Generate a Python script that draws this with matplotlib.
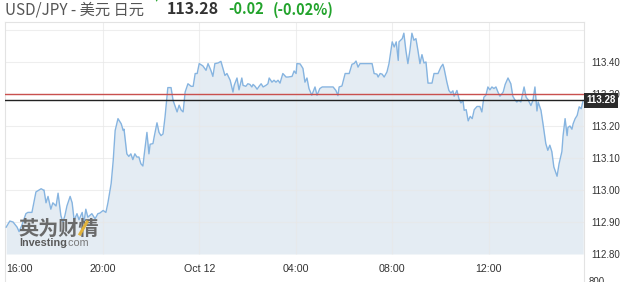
import matplotlib.pyplot as plt
from matplotlib.lines import Line2D
from matplotlib.transforms import blended_transform_factory

# minutes after 16:00 (Oct 11) and USD/JPY price
minutes = [0, 9, 17, 27, 32, 39, 49, 54, 64, 74, 82, 87, 92, 94, 99, 104, 111, 116, 124, 129,
           136, 141, 146, 151, 159, 164, 169, 176, 181, 189, 193, 198, 203, 213, 221, 228,
           233, 241, 248, 253, 261, 266, 271, 278, 286, 291, 293, 300, 305, 310, 315, 320, 325,
           330, 335, 340, 343, 350, 355, 358, 365, 368, 375, 380, 385, 390, 395, 402, 410, 415,
           425, 430, 435, 440, 445, 452, 460, 465, 470, 475, 480,
           489, 497, 502, 509, 514, 519, 527, 534, 539, 544, 549, 557, 564, 567, 574, 579, 586,
           589, 596, 601, 606, 611, 614, 619, 624, 629, 634, 639, 646, 651, 654, 661, 666, 671,
           676, 681, 688, 696, 701, 711, 716, 721, 723, 731,
           738, 743, 748, 753, 760, 768, 773, 780, 786, 813, 820, 825, 828, 835, 843, 853, 860,
           865, 870, 875, 880, 910, 915, 922, 925, 930, 935, 940, 947, 952, 960, 965, 970, 975, 977,
           985, 989, 994, 999, 1004, 1009, 1014, 1019, 1024, 1029, 1034, 1039, 1044, 1049, 1059,
           1064, 1074, 1081, 1086, 1089, 1096, 1101, 1106, 1111, 1114, 1121, 1126, 1131, 1136,
           1139, 1144, 1149, 1154, 1159, 1164, 1171, 1178, 1183, 1188, 1193, 1198, 1203, 1208,
           1213, 1218, 1223,
           1228, 1236, 1241, 1248, 1255, 1260, 1265, 1270, 1275, 1280, 1288, 1293, 1298, 1305,
           1310, 1315, 1320, 1323, 1330, 1335, 1342, 1347, 1352, 1357, 1362, 1370, 1375, 1382,
           1385, 1390, 1395, 1397, 1402, 1407, 1410, 1415, 1420, 1425, 1430, 1435]
prices = [112.884, 112.903, 112.900, 112.884, 112.870, 112.890, 112.926, 112.930, 112.930, 112.994,
          113.000, 113.004, 113.000, 113.000, 112.960, 112.980, 112.940, 112.960, 112.950, 112.990,
          112.920, 112.900, 112.920, 112.950, 112.980, 112.960, 112.905, 112.926, 112.907, 112.930,
          112.895, 112.940, 112.915, 112.926, 112.910, 112.926,
          112.928, 112.936, 112.930, 112.960, 113.020, 113.090, 113.186, 113.223, 113.207, 113.186,
          113.190, 113.113, 113.105, 113.113, 113.095, 113.113, 113.103, 113.103, 113.082, 113.075,
          113.108, 113.180, 113.113, 113.143, 113.145, 113.166, 113.210, 113.180, 113.170, 113.175,
          113.228, 113.320, 113.320, 113.280, 113.244, 113.265, 113.250, 113.244, 113.306, 113.332,
          113.324, 113.324, 113.364, 113.364, 113.395,
          113.388, 113.374, 113.395, 113.374, 113.355, 113.395, 113.397, 113.402, 113.380, 113.358,
          113.364, 113.343, 113.306, 113.327, 113.350, 113.313, 113.350, 113.327, 113.324, 113.332,
          113.330, 113.322, 113.330, 113.324, 113.315, 113.324, 113.332, 113.322, 113.327, 113.332,
          113.350, 113.337, 113.343, 113.337, 113.343, 113.334, 113.364, 113.353, 113.353, 113.355,
          113.372, 113.364, 113.395, 113.394,
          113.380, 113.337, 113.350, 113.317, 113.296, 113.322, 113.296, 113.317, 113.322, 113.322,
          113.311, 113.295, 113.322, 113.325, 113.364, 113.364, 113.393, 113.395, 113.403, 113.384,
          113.395, 113.395, 113.364, 113.362, 113.353, 113.364, 113.362, 113.353, 113.369, 113.395,
          113.463, 113.447, 113.463, 113.405, 113.463,
          113.473, 113.490, 113.436, 113.395, 113.436, 113.490, 113.468, 113.473, 113.436, 113.395,
          113.423, 113.397, 113.400, 113.334, 113.334, 113.364, 113.364, 113.384, 113.393, 113.380,
          113.337, 113.311, 113.303, 113.310, 113.293, 113.311, 113.285, 113.272, 113.280, 113.249,
          113.251, 113.216, 113.230, 113.223, 113.251, 113.261, 113.261, 113.244, 113.290, 113.296,
          113.322, 113.313, 113.322, 113.317, 113.322, 113.306,
          113.293, 113.306, 113.330, 113.350, 113.332, 113.293, 113.282, 113.275, 113.280, 113.275,
          113.322, 113.290, 113.282, 113.264, 113.280, 113.322, 113.247, 113.275, 113.249, 113.207,
          113.145, 113.124, 113.140, 113.120, 113.072, 113.043, 113.082, 113.120, 113.170, 113.223,
          113.170, 113.195, 113.200, 113.190, 113.207, 113.223, 113.233, 113.260, 113.254, 113.280]

tick_minutes = [0, 240, 480, 720, 960, 1200]
tick_labels = ['16:00', '20:00', 'Oct 12', '04:00', '08:00', '12:00']
price_ticks = [112.80, 112.90, 113.00, 113.10, 113.20, 113.30, 113.40]
grid_prices = [112.90, 113.00, 113.10, 113.20, 113.30, 113.40, 113.50]
last_price = 113.28
prev_close = 113.30
change = '-0.02'
change_pct = '(-0.02%)'

W, H = 638, 282
fig = plt.figure(figsize=(W / 100, H / 100), dpi=100)
ax = fig.add_axes([5 / W, 0, 579 / W, 1 - 22 / H])
ax.set_xlim(-3, 1437)
ax.set_ylim(112.7125, 113.525)
base = 112.80

ax.fill_between(minutes, prices, base, color='#e4ecf3', lw=0, zorder=1)
for p in grid_prices:
    ax.axhline(p, color='#e8e8e8', lw=0.8, alpha=0.7, zorder=2)
ax.vlines(tick_minutes[1:], base, 113.525, color='#e8e8e8', lw=0.8, alpha=0.7, zorder=2)
ax.plot(minutes, prices, color='#86b4e0', lw=1, zorder=3)
ax.axhline(prev_close, color='#c9504e', lw=1, zorder=4)
ax.axhline(last_price, color='#222222', lw=1, zorder=4)

for s in ['left', 'right', 'top']:
    ax.spines[s].set_color('#e3e3e3')
ax.spines['bottom'].set_visible(False)
ax.set_xticks([])
ax.yaxis.tick_right()
ax.set_yticks(price_ticks)
ax.set_yticklabels(['%.2f' % p for p in price_ticks], fontsize=7, color='#333333',
                   family='Liberation Sans')
ax.tick_params(axis='y', length=0, pad=5)

for m, lab in zip(tick_minutes, tick_labels):
    ax.text(m, 112.753, lab, ha='left' if m == 0 else 'center', va='center',
            fontsize=7.7, color='#333333', family='Liberation Sans')

tr = blended_transform_factory(ax.transAxes, ax.transData)
ax.text(1 + 2.5 / 579, last_price, '%.2f' % last_price, transform=tr, ha='left', va='center',
        fontsize=7, color='white', weight='bold', family='Liberation Sans', clip_on=False,
        zorder=10, bbox=dict(boxstyle='square,pad=0.25', fc='#2b2b2b', ec='none'))
fig.text(589 / W, 1 - 277 / H, '800', va='top', fontsize=7, color='#333333',
         family='Liberation Sans')

# header
cjk = ['Noto Sans CJK SC', 'DejaVu Sans']
yb = 1 - 14.5 / H
fig.text(5 / W, yb, 'USD/JPY - 美元 日元', fontsize=11, color='#555555', family=cjk, va='baseline')
fig.text(167 / W, yb, '%.2f' % last_price, fontsize=11.5, color='#333333', weight='bold',
         family=cjk, va='baseline')
fig.text(228 / W, yb, change, fontsize=10.5, color='#22a32c', weight='bold', family=cjk,
         va='baseline')
fig.text(273 / W, yb, change_pct, fontsize=10.5, color='#22a32c', weight='bold', family=cjk,
         va='baseline')
fig.text(157 / W, 1 + 1 / H, '▼', fontsize=5, color='#22a32c', ha='center', va='center')

# watermark
fig.text(18 / W, 1 - 235 / H, '英为财情', fontsize=14.5, color='#6a6a6a', weight='bold',
         family=cjk, va='baseline', zorder=5)
fig.add_artist(Line2D([80 / W, 87 / W], [1 - 234 / H, 1 - 222 / H], color='#e2b33c', lw=2.2,
                      zorder=6))
fig.text(19 / W, 1 - 246.5 / H, 'Investing', fontsize=7.8, color='#5a5a5a', weight='bold',
         family='Liberation Sans', va='baseline', zorder=5)
fig.text(64.5 / W, 1 - 246.5 / H, '.com', fontsize=7.8, color='#7a7a7a', family='Liberation Sans',
         va='baseline', zorder=5)

fig.savefig('out.png', dpi=100)
